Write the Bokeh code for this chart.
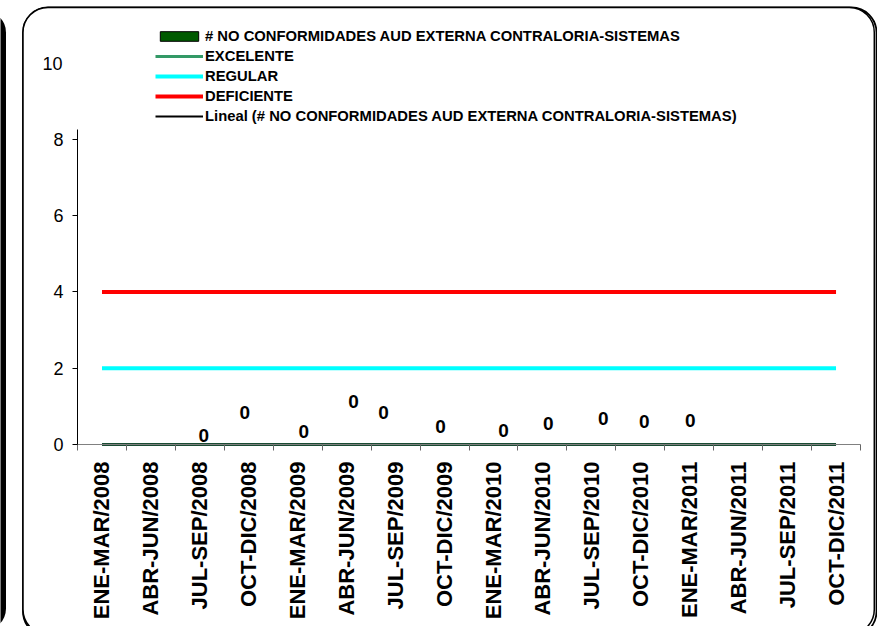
import numpy as np
from bokeh.plotting import figure
from bokeh.models import (Range1d, FixedTicker, Legend, LegendItem, Label,
                          BoxAnnotation, ColumnDataSource)
from bokeh.embed import file_html
from bokeh.resources import INLINE

# ---------------- data ----------------
categories = ["ENE-MAR/2008", "ABR-JUN/2008", "JUL-SEP/2008", "OCT-DIC/2008",
              "ENE-MAR/2009", "ABR-JUN/2009", "JUL-SEP/2009", "OCT-DIC/2009",
              "ENE-MAR/2010", "ABR-JUN/2010", "JUL-SEP/2010", "OCT-DIC/2010",
              "ENE-MAR/2011", "ABR-JUN/2011", "JUL-SEP/2011", "OCT-DIC/2011"]
no_conformidades = [None, None, 0, 0, 0, 0, 0, 0, 0, 0, 0, 0, 0, None, None, None]
excelente = [0, 0, 0, 0, 0, 0, 0, 0, 0, 0, 0, 0, 0, 0, 0, 0]
regular = [2, 2, 2, 2, 2, 2, 2, 2, 2, 2, 2, 2, 2, 2, 2, 2]
deficiente = [4, 4, 4, 4, 4, 4, 4, 4, 4, 4, 4, 4, 4, 4, 4, 4]
y_ticks = [0, 2, 4, 6, 8]
y_top_label = 10

series_names = ["# NO CONFORMIDADES AUD EXTERNA CONTRALORIA-SISTEMAS",
                "EXCELENTE", "REGULAR", "DEFICIENTE",
                "Lineal (# NO CONFORMIDADES AUD EXTERNA CONTRALORIA-SISTEMAS)"]

# manual data-label displacement (pixels), as moved in the original chart
label_dx = [4, -4, 6, 7, -12, -4, 10, 6, 12, 4, 1]
label_dy = [9, 32, 13, 43, 32, 18, 14, 21, 26, 23, 24]

# ---------------- layout geometry (pixels) ----------------
W, H = 877, 626
PLOT_L, PLOT_R = 77, 860      # x = 0 .. n on canvas
PLOT_B, PLOT_T = 444, 62.5    # y = 0 .. 10 on canvas

# ---------------- derived ----------------
n = len(categories)
xs = [i + 0.5 for i in range(n)]
bounds_x = [float(i) for i in range(n + 1)]
known = [(x, v) for x, v in zip(xs, no_conformidades) if v is not None]
kx = [k[0] for k in known]
kv = [k[1] for k in known]
coef = np.polyfit(kx, kv, 1)
trend = list(np.polyval(coef, xs))

sx = (PLOT_R - PLOT_L) / n
sy = (PLOT_B - PLOT_T) / y_top_label
x_range = Range1d(-PLOT_L / sx, n + (W - PLOT_R) / sx)
y_range = Range1d(-(H - PLOT_B) / sy, y_top_label + PLOT_T / sy)

FONT = "Liberation Sans"

p = figure(width=W, height=H, output_backend="svg", toolbar_location=None,
           x_range=x_range, y_range=y_range,
           min_border_left=0, min_border_right=0, min_border_top=0,
           min_border_bottom=0)
p.background_fill_color = "white"
p.border_fill_color = "white"
p.outline_line_color = None
p.xgrid.visible = False
p.ygrid.visible = False

# ----- chart borders (rounded, with shadow on right/bottom) -----
cu = dict(left_units="canvas", right_units="canvas",
          top_units="canvas", bottom_units="canvas", level="underlay")
left_shadow = BoxAnnotation(left=-60, right=5.5, top=10, bottom=630,
                            fill_color="black", fill_alpha=1, line_color=None,
                            border_radius=22, **cu)
shadow = BoxAnnotation(left=22.5, right=876, top=7, bottom=636,
                       fill_color=None, fill_alpha=0, line_color="black",
                       line_alpha=1, line_width=1.8, border_radius=25, **cu)
box = BoxAnnotation(left=22.5, right=873.8, top=7, bottom=634,
                    fill_color="white", fill_alpha=1, line_color="black",
                    line_alpha=1, line_width=1.5, border_radius=25, **cu)
p.add_layout(left_shadow)
p.add_layout(shadow)
p.add_layout(box)

# ----- series -----
bars = p.vbar(x=kx, top=kv, bottom=0, width=0.5, fill_color="#005a00",
              line_color="black", line_width=1)
l_exc = p.line(xs, excelente, line_color="#339966", line_width=3)
l_reg = p.line(xs, regular, line_color="#00ffff", line_width=4)
l_def = p.line(xs, deficiente, line_color="#ff0000", line_width=4)
l_trend = p.line(xs, trend, line_color="black", line_width=2)

# ----- data labels -----
lab_src = ColumnDataSource(dict(
    x=kx, y=kv, text=[f"{v:g}" for v in kv],
    dx=label_dx, dy=[-d for d in label_dy]))
p.text(x="x", y="y", text="text", source=lab_src, x_offset="dx", y_offset="dy",
       text_align="center", text_baseline="middle",
       text_font={"value": FONT}, text_font_style="bold",
       text_font_size="19px", text_color="black")

# ----- axes -----
xa = p.xaxis[0]
xa.fixed_location = 0
xa.bounds = (0, n)
xa.ticker = FixedTicker(ticks=xs, minor_ticks=bounds_x)
xa.major_label_overrides = {x: c for x, c in zip(xs, categories)}
xa.major_label_orientation = np.pi / 2
xa.major_tick_line_color = None
xa.major_tick_out = 0
xa.major_tick_in = 0
xa.minor_tick_line_color = "#666666"
xa.minor_tick_out = 6
xa.minor_tick_in = 0
xa.axis_line_color = "#808080"
xa.major_label_standoff = 11
xa.major_label_text_font = FONT
xa.major_label_text_font_style = "bold"
xa.major_label_text_font_size = "22px"
xa.major_label_text_color = "black"

ya = p.yaxis[0]
ya.fixed_location = 0
ya.ticker = FixedTicker(ticks=y_ticks)
ya.bounds = (0, 8.25)
ya.axis_line_color = "black"
ya.major_tick_line_color = "black"
ya.major_tick_out = 5
ya.major_tick_in = 0
ya.minor_tick_line_color = None
ya.major_label_standoff = 9
ya.major_label_text_font = FONT
ya.major_label_text_font_size = "18px"
ya.major_label_text_color = "black"

p.add_layout(Label(x=0, y=y_top_label, text=f"{y_top_label}", x_offset=-15,
                   text_align="right", text_baseline="middle",
                   text_font=FONT, text_font_size="18px", text_color="black"))

# ----- legend -----
legend = Legend(items=[
    LegendItem(label=series_names[0], renderers=[bars]),
    LegendItem(label=series_names[1], renderers=[l_exc]),
    LegendItem(label=series_names[2], renderers=[l_reg]),
    LegendItem(label=series_names[3], renderers=[l_def]),
    LegendItem(label=series_names[4], renderers=[l_trend]),
], location=(155, H - 126), orientation="vertical", glyph_width=48, glyph_height=12,
    label_height=20, spacing=0, padding=0, margin=0, label_standoff=2,
    border_line_color=None, background_fill_color="white", background_fill_alpha=1,
    label_text_font=FONT, label_text_font_style="bold",
    label_text_font_size="14.8px", label_text_color="black")
p.add_layout(legend, "center")

open("out.html", "w").write(file_html(p, INLINE))
